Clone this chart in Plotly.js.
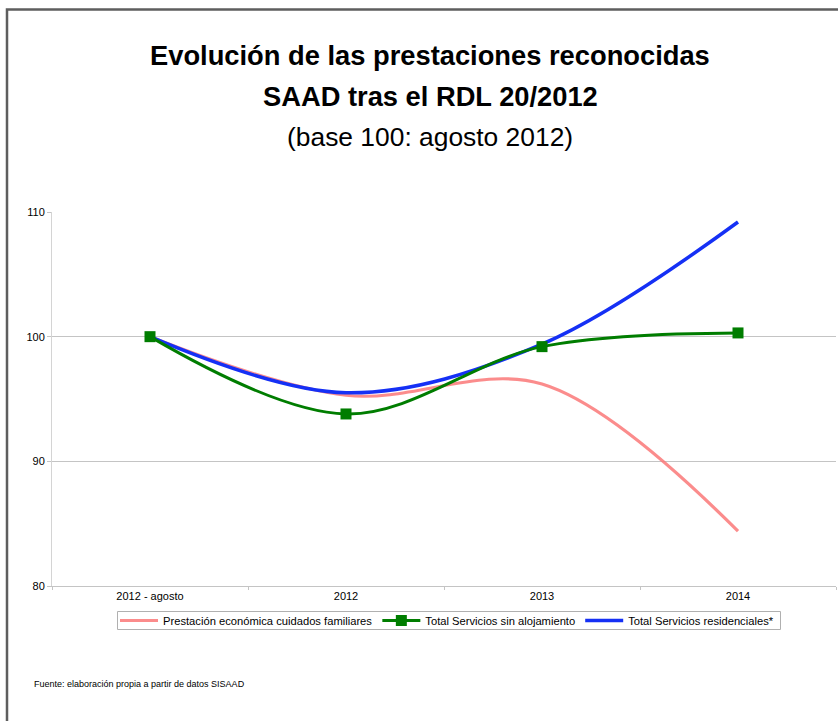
<!DOCTYPE html>
<html>
<head>
<meta charset="utf-8">
<script src="https://cdn.plot.ly/plotly-3.0.1.min.js"></script>
<style>
html,body{margin:0;padding:0;background:#fff;}
#chart{width:838px;height:721px;}
</style>
</head>
<body>
<div id="chart"></div>
<script>
// Data
var categories = ["2012 - agosto", "2012", "2013", "2014"];
var seriesNames = ["Prestación económica cuidados familiares", "Total Servicios sin alojamiento", "Total Servicios residenciales*"];
var prestacionEconomica = [100, 95.3, 96.2, 84.4];
var serviciosSinAlojamiento = [100, 93.8, 99.2, 100.3];
var serviciosResidenciales = [100, 95.5, 99.4, 109.2];
var yTicks = [80, 90, 100, 110];

var FONT = "Liberation Sans, Arial, Helvetica, sans-serif";

// plot area: x 52..836, y 212..586
var L = 52, R = 836, T = 212, B = 586;
function px(x){ return (x - L) / (R - L); }
function py(y){ return (B - y) / (B - T); }

var traces = [
  {
    x: categories, y: prestacionEconomica, name: seriesNames[0],
    type: "scatter", mode: "lines",
    line: {color: "rgba(250,120,120,0.85)", width: 3.2, shape: "spline", smoothing: 1},
    legendrank: 1
  },
  {
    x: categories, y: serviciosResidenciales, name: seriesNames[2],
    type: "scatter", mode: "lines",
    line: {color: "#1530f5", width: 3.5, shape: "spline", smoothing: 1},
    legendrank: 3
  },
  {
    x: categories, y: serviciosSinAlojamiento, name: seriesNames[1],
    type: "scatter", mode: "lines+markers",
    line: {color: "#007d00", width: 3, shape: "spline", smoothing: 1},
    marker: {symbol: "square", size: 11, color: "#007d00"},
    legendrank: 2
  }
];

var layout = {
  width: 838, height: 721,
  paper_bgcolor: "#ffffff", plot_bgcolor: "#ffffff",
  margin: {l: L, r: 838 - R, t: T, b: 721 - B},
  font: {family: FONT, size: 11, color: "#000"},
  showlegend: true,
  legend: {
    orientation: "h", xref: "container", yref: "container",
    x: 447/838, xanchor: "center", y: 1 - 620.5/721, yanchor: "middle",
    borderwidth: 0, bgcolor: "rgba(0,0,0,0)", itemwidth: 38,
    font: {family: FONT, size: 11.2, color: "#000"},
    traceorder: "normal"
  },
  xaxis: {
    type: "category", range: [-0.5, 3.5],
    showgrid: false, showline: true, linecolor: "#c4c4c4", linewidth: 1,
    ticks: "outside", tickson: "boundaries", ticklen: 3, tickcolor: "#c4c4c4",
    tickfont: {family: FONT, size: 11, color: "#000"},
    fixedrange: true, zeroline: false
  },
  yaxis: {
    range: [80, 110], tickvals: yTicks, ticktext: yTicks.map(String),
    showgrid: true, gridcolor: "#c4c4c4", gridwidth: 1,
    showline: true, linecolor: "#d4d4d4", linewidth: 1,
    ticks: "outside", ticklen: 4, tickcolor: "#c4c4c4",
    tickfont: {family: FONT, size: 11, color: "#000"},
    zeroline: false, fixedrange: true
  },
  shapes: [
    {type: "rect", xref: "paper", yref: "paper",
     x0: px(7), x1: px(860), y0: py(740), y1: py(9.5),
     line: {color: "#5e5e5e", width: 2.5}, fillcolor: "rgba(0,0,0,0)", layer: "below"},
    {type: "rect", xref: "paper", yref: "paper",
     x0: px(117.5), x1: px(780.5), y0: py(629.5), y1: py(611.5),
     line: {color: "#b0b0b0", width: 1}, fillcolor: "rgba(0,0,0,0)", layer: "below"}
  ],
  annotations: [
    {text: "<b>Evolución de las prestaciones reconocidas</b>", xref: "paper", yref: "paper",
     x: px(430), y: py(55), xanchor: "center", yanchor: "middle", showarrow: false,
     font: {family: FONT, size: 27.3, color: "#000"}},
    {text: "<b>SAAD tras el RDL 20/2012</b>", xref: "paper", yref: "paper",
     x: px(430), y: py(96), xanchor: "center", yanchor: "middle", showarrow: false,
     font: {family: FONT, size: 27.3, color: "#000"}},
    {text: "(base 100: agosto 2012)", xref: "paper", yref: "paper",
     x: px(430), y: py(137), xanchor: "center", yanchor: "middle", showarrow: false,
     font: {family: FONT, size: 26.4, color: "#000"}},
    {text: "Fuente: elaboración propia a partir de datos SISAAD", xref: "paper", yref: "paper",
     x: px(32), y: py(684), xanchor: "left", yanchor: "middle", showarrow: false,
     font: {family: FONT, size: 9, color: "#000"}}
  ]
};

Plotly.newPlot("chart", traces, layout, {displayModeBar: false, staticPlot: true});
</script>
</body>
</html>
